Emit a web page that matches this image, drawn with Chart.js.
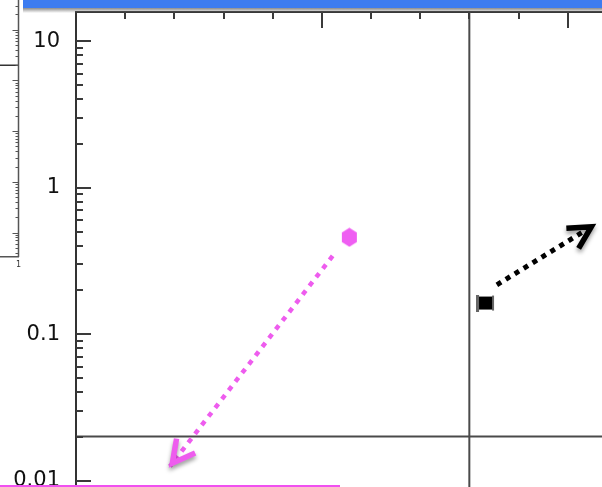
<!DOCTYPE html>
<html>
<head>
<meta charset="utf-8">
<script src="https://cdn.jsdelivr.net/npm/chart.js@4.4.1/dist/chart.umd.min.js"></script>
<style>
  html, body { margin: 0; padding: 0; background: #fff; overflow: hidden; }
  #stage { position: relative; width: 602px; height: 487px; overflow: hidden; background: #fff; }
  #main { position: absolute; left: 0; top: 0; }
  #side { position: absolute; left: -280px; top: -21px; }
  #titlebar { position: absolute; left: 23px; top: 0; width: 579px; height: 8px; background: #3d7cf0; }
  #titleshade { position: absolute; left: 23px; top: 8px; width: 579px; height: 5px;
                background: linear-gradient(rgba(120,120,120,0.85), rgba(255,255,255,0)); }
  #selection { position: absolute; left: 0; top: 485px; width: 340px; height: 2px; background: #f050f0; }
</style>
</head>
<body>
<div id="stage">
  <canvas id="side" width="300" height="292"></canvas>
  <canvas id="main" width="680" height="592"></canvas>
  <div id="titlebar"></div>
  <div id="titleshade"></div>
  <div id="selection"></div>
</div>
<script>
// ---- main panel: linear x along the top frame, logarithmic y ----
const xRange = [0, 12];
const xMajorEvery = 5;
const yRange = [0.002, 15.8];
const yTickValues = [10, 1, 0.1, 0.01];
const yTickLabels = ['10', '1', '0.1', '0.01'];

// markers
const markerX = [5.56, 8.33];
const markerY = [0.458, 0.163];
const markerColors = ['#ef5ef2', '#000000'];

// dotted arrows (start -> tip)
const arrowStartX = [5.22, 8.56];
const arrowStartY = [0.342, 0.217];
const arrowEndX = [1.91, 10.55];
const arrowEndY = [0.0125, 0.558];
const arrowColors = ['#ee5cee', '#000000'];

// reference lines
const refY = 0.02;
const refX = 8;

// ---- side panel ----
const sideXRange = [0, 1];
const sideXLabels = ['1'];
const sideYRange = [0.0033, 1000];
const sideRefY = 20;

// point sprites
function hexSprite(color) {
  const c = document.createElement('canvas');
  c.width = 17; c.height = 20;
  const g = c.getContext('2d');
  const cx = 8.5, cy = 10, rx = 7.5, ry = 9.5;
  g.fillStyle = color;
  g.beginPath();
  g.moveTo(cx, cy - ry);
  g.lineTo(cx + rx, cy - ry / 2);
  g.lineTo(cx + rx, cy + ry / 2);
  g.lineTo(cx, cy + ry);
  g.lineTo(cx - rx, cy + ry / 2);
  g.lineTo(cx - rx, cy - ry / 2);
  g.closePath();
  g.fill();
  return c;
}
function capSquareSprite(color) {
  const c = document.createElement('canvas');
  c.width = 19; c.height = 17;
  const g = c.getContext('2d');
  g.fillStyle = '#666';
  g.fillRect(0, 0, 3, 17);
  g.fillRect(16, 1, 2, 15);
  g.fillStyle = color;
  g.fillRect(3, 2, 13, 13);
  return c;
}

const arrowHeads = {
  id: 'arrowHeads',
  afterDatasetsDraw(chart) {
    const ctx = chart.ctx;
    chart.data.datasets.forEach((ds, i) => {
      if (!ds.arrow) return;
      const pts = chart.getDatasetMeta(i).data;
      const a = pts[0], b = pts[pts.length - 1];
      const ang = Math.atan2(a.y - b.y, a.x - b.x);
      const len = 25, spread = 28 * Math.PI / 180;
      const tx = b.x + 4 * Math.cos(ang), ty = b.y + 4 * Math.sin(ang);
      ctx.save();
      ctx.strokeStyle = ds.borderColor;
      ctx.lineWidth = 5.5;
      ctx.lineJoin = 'miter';
      ctx.lineCap = 'butt';
      ctx.shadowColor = 'rgba(0,0,0,0.4)';
      ctx.shadowBlur = 4;
      ctx.shadowOffsetX = 0;
      ctx.shadowOffsetY = 3;
      ctx.beginPath();
      ctx.moveTo(tx + len * Math.cos(ang + spread), ty + len * Math.sin(ang + spread));
      ctx.lineTo(tx, ty);
      ctx.lineTo(tx + len * Math.cos(ang - spread), ty + len * Math.sin(ang - spread));
      ctx.stroke();
      ctx.restore();
    });
  }
};

const frameTicks = {
  id: 'frameTicks',
  afterDraw(chart) {
    const { ctx, chartArea: ca, scales: { x, y } } = chart;
    ctx.save();
    ctx.strokeStyle = '#3a3a3a';
    ctx.lineWidth = 2;
    ctx.beginPath();
    for (let e = -4; e <= 2; e++) {
      for (let m = 1; m <= 9; m++) {
        const v = m * Math.pow(10, e);
        if (v < y.min || v > y.max) continue;
        const py = Math.round(y.getPixelForValue(v));
        ctx.moveTo(ca.left, py);
        ctx.lineTo(ca.left + (m === 1 ? 15 : 7), py);
      }
    }
    for (let v = Math.floor(x.min) + 1; v <= x.max; v++) {
      const px = Math.round(x.getPixelForValue(v));
      ctx.moveTo(px, ca.top);
      ctx.lineTo(px, ca.top + (v % xMajorEvery === 0 ? 16 : 7));
    }
    ctx.stroke();
    ctx.restore();
  }
};

const datasets = [];
markerX.forEach((mx, i) => {
  datasets.push({
    type: 'scatter',
    data: [{ x: mx, y: markerY[i] }],
    pointStyle: i === 0 ? hexSprite(markerColors[i]) : capSquareSprite(markerColors[i]),
    pointRadius: 8,
    showLine: false
  });
});
arrowStartX.forEach((sx, i) => {
  datasets.push({
    type: 'line',
    arrow: true,
    data: [{ x: sx, y: arrowStartY[i] }, { x: arrowEndX[i], y: arrowEndY[i] }],
    borderColor: arrowColors[i],
    borderWidth: i === 0 ? 4.5 : 5,
    borderDash: i === 0 ? [5, 6] : [5, 5.5],
    borderCapStyle: 'butt',
    pointRadius: 0,
    fill: false
  });
});
datasets.push({
  type: 'line',
  data: [{ x: xRange[0], y: refY }, { x: xRange[1], y: refY }],
  borderColor: '#4a4a4a', borderWidth: 2, pointRadius: 0, fill: false
});
datasets.push({
  type: 'line',
  data: [{ x: refX, y: yRange[0] }, { x: refX, y: yRange[1] }],
  borderColor: '#4a4a4a', borderWidth: 2, pointRadius: 0, fill: false
});

new Chart(document.getElementById('main'), {
  type: 'scatter',
  data: { datasets },
  options: {
    responsive: false,
    animation: false,
    devicePixelRatio: 1,
    layout: { padding: { left: 0, top: 0, right: 14, bottom: 1 } },
    plugins: { legend: { display: false }, tooltip: { enabled: false } },
    scales: {
      x: {
        type: 'linear', position: 'top',
        min: xRange[0], max: xRange[1],
        grid: { display: false, drawTicks: false },
        border: { display: true, color: '#333', width: 2 },
        ticks: { display: false },
        afterFit(s) { s.height = 12; s.paddingLeft = 0; s.paddingRight = 0; }
      },
      y: {
        type: 'logarithmic', position: 'left',
        min: yRange[0], max: yRange[1],
        grid: { display: false, drawTicks: false },
        border: { display: true, color: '#333', width: 2 },
        ticks: {
          autoSkip: false,
          padding: 16,
          color: '#111',
          font: { family: 'DejaVu Sans', size: 21 },
          callback(v) {
            const k = yTickValues.findIndex(t => Math.abs(t - v) / t < 1e-6);
            return k >= 0 ? yTickLabels[k] : '';
          }
        },
        afterFit(s) { s.width = 76; s.paddingTop = 0; s.paddingBottom = 0; }
      }
    }
  },
  plugins: [frameTicks, arrowHeads]
});

// ---- side panel ----
const sideFrame = {
  id: 'sideFrame',
  afterDraw(chart) {
    const { ctx, chartArea: ca, scales: { y } } = chart;
    const rx = Math.round(ca.right) + 0.5;
    ctx.save();
    ctx.strokeStyle = '#555';
    ctx.lineWidth = 1.5;
    ctx.beginPath();
    ctx.moveTo(rx, ca.top);
    ctx.lineTo(rx, ca.bottom);
    ctx.stroke();
    ctx.lineWidth = 1;
    ctx.beginPath();
    for (let e = -4; e <= 3; e++) {
      for (let m = 1; m <= 9; m++) {
        const v = m * Math.pow(10, e);
        if (v < y.min || v > y.max) continue;
        const py = Math.round(y.getPixelForValue(v)) + 0.5;
        ctx.moveTo(rx, py);
        ctx.lineTo(rx - (m === 1 ? 6 : 3), py);
      }
    }
    ctx.stroke();
    ctx.restore();
  }
};

const sideChart = new Chart(document.getElementById('side'), {
  type: 'line',
  data: {
    datasets: [{
      data: [{ x: sideXRange[0], y: sideRefY }, { x: sideXRange[1], y: sideRefY }],
      borderColor: '#333', borderWidth: 1.5, pointRadius: 0, fill: false
    }]
  },
  options: {
    responsive: false,
    animation: false,
    devicePixelRatio: 1,
    layout: { padding: 0 },
    plugins: { legend: { display: false }, tooltip: { enabled: false } },
    scales: {
      x: {
        type: 'linear', position: 'bottom',
        min: sideXRange[0], max: sideXRange[1],
        grid: { display: false, drawTicks: false },
        border: { display: true, color: '#555', width: 1.5 },
        ticks: {
          autoSkip: false, maxRotation: 0, stepSize: 0.5, padding: 3,
          color: '#333', font: { family: 'DejaVu Sans', size: 8 },
          callback(v) { return v === sideXRange[1] ? sideXLabels[0] : ''; }
        },
        afterFit(s) { s.height = 14; }
      },
      y: {
        type: 'logarithmic', display: false,
        min: sideYRange[0], max: sideYRange[1]
      }
    }
  },
  plugins: [sideFrame]
});
const sca = sideChart.chartArea;
const sideCanvas = document.getElementById('side');
sideCanvas.style.left = Math.round(18 - sca.right) + 'px';
sideCanvas.style.top = Math.round(-21 - sca.top) + 'px';
</script>
</body>
</html>
